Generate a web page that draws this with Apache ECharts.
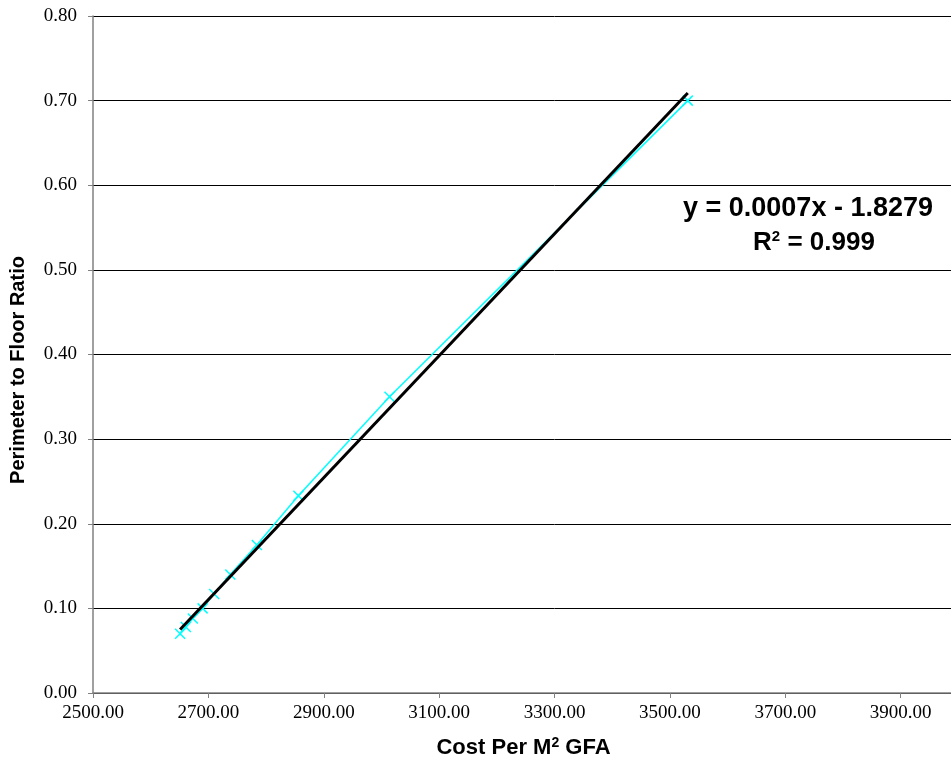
<!DOCTYPE html>
<html>
<head>
<meta charset="utf-8">
<script src="https://cdn.jsdelivr.net/npm/echarts@6/dist/echarts.min.js"></script>
<style>
html,body{margin:0;padding:0;background:#fff;overflow:hidden;}
#chart{width:1030px;height:775px;position:absolute;left:0;top:0;}
</style>
</head>
<body>
<div id="chart"></div>
<script>
// Data
const costPerM2 = [2651, 2661, 2673, 2690, 2710, 2738, 2784, 2856, 3014, 3531];
const perimeterRatio = [0.070, 0.078, 0.088, 0.100, 0.117, 0.140, 0.175, 0.233, 0.350, 0.700];
// Trend line end points
const trendX = [2651, 3531];
const trendY = [0.075, 0.709];
const equationText = 'y = 0.0007x - 1.8279';
const r2Value = '0.999';
const xAxisTitle = 'Cost Per M';
const yAxisTitle = 'Perimeter to Floor Ratio';

const chart = echarts.init(document.getElementById('chart'), null, {renderer: 'canvas', width: 1030, height: 775});

const pts = costPerM2.map((x, i) => [x, perimeterRatio[i]]);
const trend = trendX.map((x, i) => [x, trendY[i]]);

const option = {
  backgroundColor: '#ffffff',
  animation: false,
  grid: {left: 93, top: 16, bottom: 82, right: 14, containLabel: false, outerBoundsMode: 'none'},
  xAxis: {
    type: 'value', min: 2500, max: 4100, interval: 200,
    name: xAxisTitle + '{sup|2} GFA',
    nameLocation: 'middle', nameGap: 43,
    nameTextStyle: {
      fontFamily: 'Liberation Sans, Arial', fontWeight: 'bold', fontSize: 22, color: '#000',
      padding: [0, 62, 0, 0],
      rich: {sup: {fontFamily: 'Liberation Sans, Arial', fontWeight: 'bold', fontSize: 14, verticalAlign: 'top', padding: [0, 0, 10, 0], color: '#000'}}
    },
    axisLine: {show: true, lineStyle: {color: '#808080', width: 1.5}},
    axisTick: {show: true, length: 5, lineStyle: {color: '#808080'}},
    axisLabel: {
      margin: 11, color: '#000', fontFamily: 'Liberation Serif, Times New Roman', fontSize: 19,
      formatter: v => v.toFixed(2)
    },
    splitLine: {show: false}
  },
  yAxis: {
    type: 'value', min: 0, max: 0.8, interval: 0.1,
    name: yAxisTitle, nameLocation: 'middle', nameGap: 65,
    nameTextStyle: {
      fontFamily: 'Liberation Sans, Arial', fontWeight: 'bold', fontSize: 20, color: '#000',
      padding: [0, 31, 0, 0]
    },
    axisLine: {show: true, lineStyle: {color: '#808080', width: 1.5}},
    axisTick: {show: true, length: 5, lineStyle: {color: '#808080'}},
    axisLabel: {
      margin: 16, color: '#000', fontFamily: 'Liberation Serif, Times New Roman', fontSize: 19,
      formatter: v => v.toFixed(2)
    },
    splitLine: {show: true, lineStyle: {color: '#000', width: 1}}
  },
  series: [
    {
      type: 'line', data: pts, z: 2,
      lineStyle: {color: '#00FFFF', width: 1.5},
      symbol: 'path://M0,0L10,10M10,0L0,10', symbolSize: 10,
      itemStyle: {color: 'rgba(0,0,0,0)', borderColor: '#00FFFF', borderWidth: 1.5},
      showSymbol: true
    },
    {
      type: 'line', data: trend, z: 3, symbol: 'none',
      lineStyle: {color: '#000', width: 3}
    }
  ],
  graphic: [
    {type: 'text', x: 808, y: 195, z: 10,
     style: {text: equationText, textAlign: 'center', fontFamily: 'Liberation Sans, Arial', fontWeight: 'bold', fontSize: 27, fill: '#000'}},
    {type: 'text', x: 814, y: 229, z: 10,
     style: {text: 'R{sup|2} = ' + r2Value, textAlign: 'center', fontFamily: 'Liberation Sans, Arial', fontWeight: 'bold', fontSize: 26, fill: '#000',
       rich: {sup: {fontFamily: 'Liberation Sans, Arial', fontWeight: 'bold', fontSize: 15, verticalAlign: 'top', padding: [0, 0, 12, 0], fill: '#000'}}}}
  ]
};
chart.setOption(option);
</script>
</body>
</html>
